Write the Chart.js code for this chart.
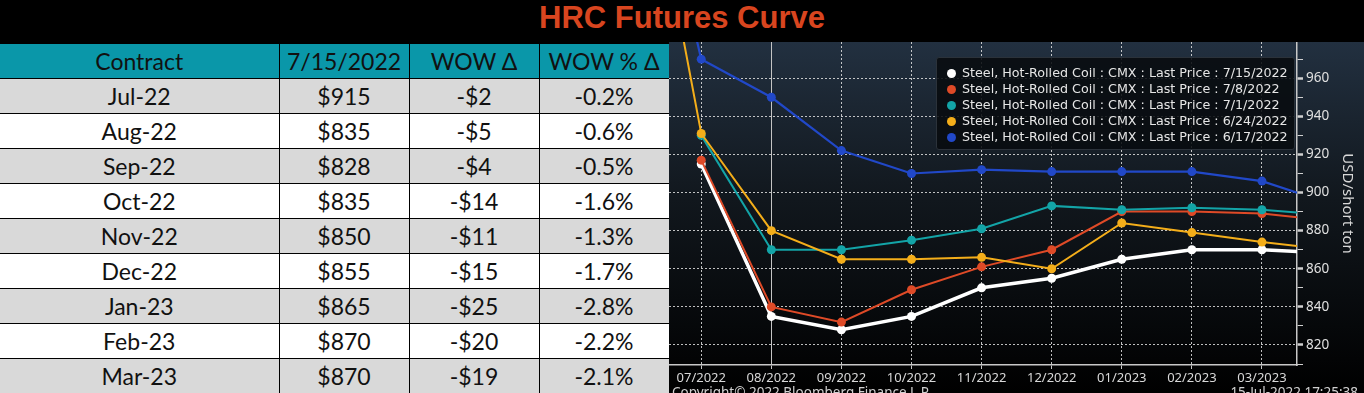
<!DOCTYPE html>
<html>
<head>
<meta charset="utf-8">
<script src="https://cdn.jsdelivr.net/npm/chart.js@4.4.0/dist/chart.umd.min.js"></script>
<style>
  body { margin: 0; background: #000; width: 1364px; height: 393px; overflow: hidden; position: relative; }
  #title {
    position: absolute; left: 0; top: 0; width: 1364px; height: 43px; line-height: 43px;
    text-align: center; color: #d8451f; font: bold 31px "Liberation Sans", Arial, sans-serif;
  }
  #tbl {
    position: absolute; left: 0; top: 43px; width: 669px; border-collapse: collapse;
    table-layout: fixed; font-family: Lato, sans-serif; font-size: 23px; color: #111;
  }
  #tbl td, #tbl th { border: 1px solid #000; height: 34px; padding: 0; text-align: center; font-weight: normal; }
  #tbl th { background: #0a97a9; }
  #tbl tr:nth-child(odd) td { background: #fff; }
  #tbl tr:nth-child(even) td { background: #d9d9d9; }
  #tbl td:first-child, #tbl th:first-child { border-left: none; }
  #box {
    position: absolute; left: 669px; top: 42px; width: 695px; height: 351px; overflow: hidden;
    background: linear-gradient(to bottom, #223040 0%, #11171d 45%, #000 100%);
  }
  #legend {
    position: absolute; left: 267px; top: 15px; width: 357px; height: 91px;
    background: rgba(8, 11, 15, 0.88); border: 1px solid #2b323a; border-radius: 3px;
    font: 12.7px "DejaVu Sans", sans-serif; color: #e6e6e6;
  }
  .item { position: absolute; left: 10px; height: 16px; line-height: 16px; white-space: nowrap; }
  .dot { display: inline-block; width: 9px; height: 9px; border-radius: 50%; margin-right: 6px; vertical-align: -1px; }
  .foot { position: absolute; top: 341px; font: 13.5px "Noto Sans", sans-serif; color: #d0d0d0; white-space: nowrap; }
</style>
</head>
<body>
<div id="title">HRC Futures Curve</div>
<table id="tbl"></table>
<div id="box">
  <canvas id="c" width="695" height="351"></canvas>
  <div id="legend"></div>
  <div class="foot" style="left:3px">Copyright© 2022 Bloomberg Finance L.P.</div>
  <div class="foot" style="right:6px">15-Jul-2022 17:25:38</div>
</div>
<script>
// table
const headers = ["Contract", "7/15/2022", "WOW Δ", "WOW % Δ"];
const contracts = ["Jul-22", "Aug-22", "Sep-22", "Oct-22", "Nov-22", "Dec-22", "Jan-23", "Feb-23", "Mar-23"];
const prices = ["$915", "$835", "$828", "$835", "$850", "$855", "$865", "$870", "$870"];
const wowDelta = ["-$2", "-$5", "-$4", "-$14", "-$11", "-$15", "-$25", "-$20", "-$19"];
const wowPct = ["-0.2%", "-0.6%", "-0.5%", "-1.6%", "-1.3%", "-1.7%", "-2.8%", "-2.2%", "-2.1%"];
const colWidths = [279, 130, 130, 130];

// chart: contract months, first and last sit just outside the plot
const months = ["06/2022", "07/2022", "08/2022", "09/2022", "10/2022", "11/2022", "12/2022", "01/2023", "02/2023", "03/2023", "04/2023"];
const tickLabels = ["07/2022", "08/2022", "09/2022", "10/2022", "11/2022", "12/2022", "01/2023", "02/2023", "03/2023"];
const p0715 = [null, 915, 835, 828, 835, 850, 855, 865, 870, 870, 868];
const p0708 = [null, 917, 840, 832, 849, 861, 870, 890, 890, 889, 885];
const p0701 = [null, 930, 870, 870, 875, 881, 893, 891, 892, 891, 888];
const p0624 = [1125, 931, 880, 865, 865, 866, 860, 884, 879, 874, 870];
const p0617 = [1126, 970, 950, 922, 910, 912, 911, 911, 911, 906, 894];
const seriesNames = [
  "Steel, Hot-Rolled Coil : CMX : Last Price : 7/15/2022",
  "Steel, Hot-Rolled Coil : CMX : Last Price : 7/8/2022",
  "Steel, Hot-Rolled Coil : CMX : Last Price : 7/1/2022",
  "Steel, Hot-Rolled Coil : CMX : Last Price : 6/24/2022",
  "Steel, Hot-Rolled Coil : CMX : Last Price : 6/17/2022"
];
const yTicks = [810, 820, 830, 840, 850, 860, 870, 880, 890, 900, 910, 920, 930, 940, 950, 960, 970];

let html = "<colgroup>" + colWidths.map(w => `<col style="width:${w}px">`).join("") + "</colgroup>";
html += "<tr>" + headers.map(h => `<th>${h}</th>`).join("") + "</tr>";
for (let i = 0; i < contracts.length; i++) {
  html += `<tr><td>${contracts[i]}</td><td>${prices[i]}</td><td>${wowDelta[i]}</td><td>${wowPct[i]}</td></tr>`;
}
document.getElementById("tbl").innerHTML = html;

function pts(arr) {
  return arr.map((v, i) => ({ x: i - 1, y: v }));
}
const offChart = (ctx) => ctx.dataIndex === 0 || ctx.dataIndex === months.length - 1;

function ds(label, arr, color, width, radius, order) {
  return {
    label: label,
    data: pts(arr),
    borderColor: color,
    backgroundColor: color,
    borderWidth: width,
    pointRadius: (ctx) => (offChart(ctx) ? 0 : radius),
    pointBorderWidth: 0,
    pointBackgroundColor: color,
    order: order,
  };
}

const datasets = [
  ds(seriesNames[0], p0715, "#ffffff", 3.5, 4.5, 5),
  ds(seriesNames[1], p0708, "#de4a27", 2, 4.5, 4),
  ds(seriesNames[2], p0701, "#13a4a7", 2, 4.5, 3),
  ds(seriesNames[3], p0624, "#f4ae1a", 2, 4.5, 2),
  ds(seriesNames[4], p0617, "#2148c8", 2.2, 4.5, 1),
];

const dotted = "rgba(225,225,225,0.85)";
const chart = new Chart(document.getElementById("c"), {
  type: "line",
  data: { datasets: datasets },
  options: {
    responsive: false,
    animation: false,
    devicePixelRatio: 1,
    layout: { padding: 0 },
    plugins: { legend: { display: false }, tooltip: { enabled: false } },
    scales: {
      x: {
        type: "linear",
        min: -0.46,
        max: 8.5,
        afterBuildTicks: (s) => { s.ticks = tickLabels.map((_, i) => ({ value: i })); },
        afterFit: (s) => { s.height = 28; s.paddingLeft = 0; s.paddingRight = 0; },
        ticks: {
          autoSkip: false, maxRotation: 0, padding: 1,
          color: "#d8d8d8", font: { family: "Noto Sans", size: 13 },
          callback: (v) => tickLabels[v],
        },
        grid: {
          color: (ctx) => (ctx.tick && ctx.tick.value === 1 ? "#c4c4c4" : dotted),
          tickColor: "#c8c8c8", tickLength: 4, lineWidth: 1,
        },
        border: {
          color: "#c8c8c8", width: 1.5,
          dash: (ctx) => (ctx.tick && ctx.tick.value === 1 ? [] : [2, 2]),
        },
      },
      y: {
        position: "right",
        min: 809.5,
        max: 979,
        afterBuildTicks: (s) => { s.ticks = yTicks.map((v) => ({ value: v })); },
        afterFit: (s) => { s.width = 67; s.paddingTop = 0; s.paddingBottom = 0; },
        ticks: {
          padding: 3, color: "#e0e0e0", font: { family: "Noto Sans", size: 13.5 },
          callback: (v) => (v % 20 === 0 ? v : ""),
        },
        grid: {
          color: (ctx) => (ctx.tick && ctx.tick.value % 20 === 0 ? dotted : "rgba(0,0,0,0)"),
          tickColor: "#d0d0d0",
          tickWidth: (ctx) => (ctx.tick && ctx.tick.value % 20 === 0 ? 2.5 : 1),
          tickLength: 6,
        },
        border: { color: "#c8c8c8", width: 1.5, dash: [2, 2] },
        title: {
          display: true, text: "USD/short ton", color: "#d8d8d8",
          font: { family: "Noto Sans", size: 15 }, padding: { top: 8, bottom: 0 },
        },
      },
    },
  },
});

// legend box from the datasets
const leg = document.getElementById("legend");
chart.data.datasets.forEach((d, i) => {
  const row = document.createElement("div");
  row.className = "item";
  row.style.top = 7 + i * 16 + "px";
  row.innerHTML = `<span class="dot" style="background:${d.borderColor}"></span>${d.label}`;
  leg.append(row);
});
</script>
</body>
</html>
